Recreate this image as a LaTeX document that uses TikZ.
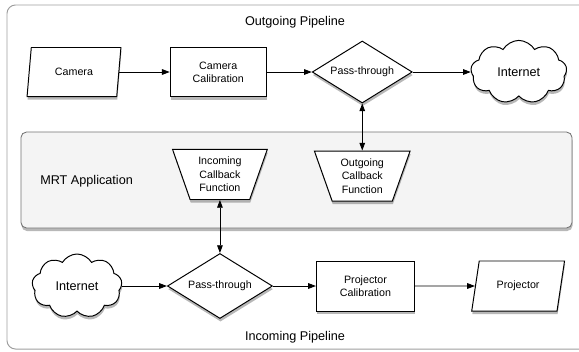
\documentclass[tikz,border=0pt]{standalone}
\usepackage{fontspec}
\setmainfont{Liberation Sans}
\usepackage{tikz}
\usetikzlibrary{arrows.meta,positioning,shapes.geometric,shapes.symbols,shadows}
\definecolor{framegray}{gray}{0.62}
\definecolor{appgray}{gray}{0.955}
\definecolor{appedge}{gray}{0.45}

\begin{document}
\begin{tikzpicture}[
    x=0.025cm, y=-0.025cm,
    node distance=1.2cm,
    shade/.style={
        drop shadow={shadow xshift=0.4pt, shadow yshift=-2.2pt, opacity=0.28, fill=black}
    },
    procbox/.style={
        rectangle,
        draw=black,
        line width=0.7pt,
        align=center,
        fill=white,
        shade,
        minimum width=2.4cm,
        minimum height=1.225cm,
        inner sep=1pt,
        font=\fontsize{7.6}{9.5}\selectfont
    },
    iobox/.style={
        procbox,
        trapezium,
        trapezium stretches=true
    },
    passbox/.style={
        procbox,
        diamond,
        aspect=1.6
    },
    netbox/.style={
        procbox,
        cloud,
        cloud puffs=9,
        cloud puff arc=120,
        aspect=1.5,
        font=\fontsize{9}{11}\selectfont
    },
    callbox/.style={
        iobox,
        trapezium left angle=110,
        trapezium right angle=110,
        minimum width=2.4cm,
        minimum height=1.25cm
    },
    title/.style={inner sep=0pt, font=\fontsize{9}{11}\selectfont},
    arrow/.style={-{Triangle[length=5.5pt,width=4pt]}, line width=0.6pt},
    dblarrow/.style={{Triangle[length=5.5pt,width=4pt]}-{Triangle[length=5.5pt,width=4pt]}, line width=0.6pt}
]
\useasboundingbox (0,0) rectangle (579,351);

% Outer frame
\draw[framegray, line width=0.7pt, rounded corners=6pt] (7,5) rectangle (595,349);

\node[title] (outtitle) at (295,22) {Outgoing Pipeline};
\node[title] (intitle) at (295,337) {Incoming Pipeline};

% Application layer
\node[rectangle, rounded corners=4pt, draw=appedge, line width=0.6pt, fill=appgray, shade,
      minimum width=13.775cm, minimum height=2.4cm] (app) at (296.5,180) {};
\node[title, anchor=west] (applabel) at (40,181) {MRT Application};

% Top row: outgoing pipeline
\node[iobox, trapezium left angle=79, trapezium right angle=101,
      minimum width=2.35cm] (camera) at (74,72) {Camera};

\node[procbox, right=1.26cm of camera] (camcal) {Camera\\Calibration};

\node[passbox, right=1.125cm of camcal, minimum width=2.5cm, minimum height=1.55cm] (passout) {Pass-through};

\node[netbox, right=1.45cm of passout, minimum width=2.4cm, minimum height=1.58cm] (netout) {Internet};

% Bottom row: incoming pipeline
\node[netbox, minimum width=2.25cm, minimum height=1.6cm] (netin) at (77,286) {Internet};

\node[passbox, right=1.125cm of netin, minimum width=2.625cm, minimum height=1.625cm] (passin) {Pass-through};

\node[procbox, right=1.075cm of passin, minimum width=2.45cm, minimum height=1.25cm] (projcal) {Projector\\Calibration};

\node[iobox, trapezium left angle=71, trapezium right angle=109,
      minimum width=2.325cm, minimum height=1.25cm, right=1.5cm of projcal] (projector) {Projector};

% Callbacks
\node[callbox, below=1.175cm of passout] (outcb) {Outgoing\\Callback\\Function};
\node[callbox, above=1.325cm of passin, minimum width=2.375cm] (incb) {Incoming\\Callback\\Function};

% Arrows
\draw[arrow] (camera) -- (camcal);
\draw[arrow] (camcal) -- (passout);
\draw[arrow] (passout) -- (netout);

\draw[arrow] (netin) -- (passin);
\draw[arrow] (passin) -- (projcal);
\draw[arrow] (projcal) -- (projector);

\draw[dblarrow] (passout.south) -- (outcb.north);
\draw[dblarrow] (incb.south) -- (passin.north);

\end{tikzpicture}
\end{document}
